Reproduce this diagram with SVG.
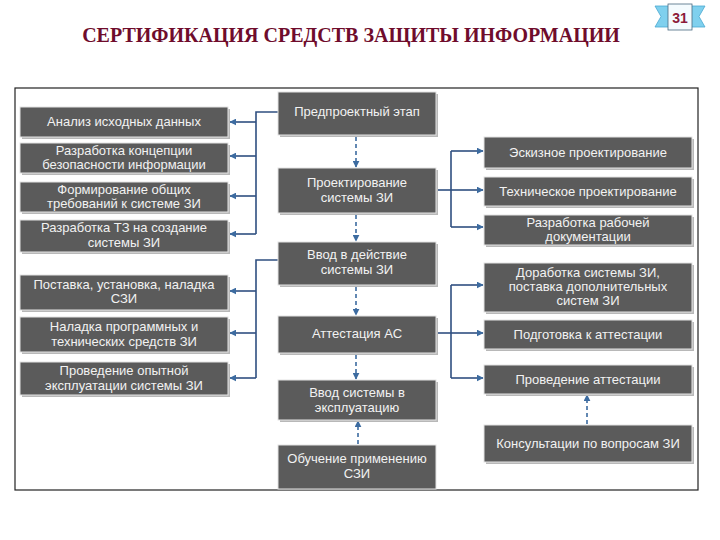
<svg xmlns="http://www.w3.org/2000/svg" width="720" height="540" viewBox="0 0 720 540">
<style>
.box{fill:#5b5b5b;stroke:#e4e4e4;stroke-width:1}
.sh{fill:#b8b8b8}
.t{font-family:"Liberation Sans",Arial,sans-serif;font-size:13px;fill:#f2f2f2;text-anchor:middle}
.ln{fill:none;stroke:#2f4f80;stroke-width:1.6}
.ds{fill:none;stroke:#3c6ba0;stroke-width:1.6;stroke-dasharray:4 3}
</style>
<defs>
<marker id="ah" viewBox="0 0 10 10" refX="9" refY="5" markerWidth="7" markerHeight="7" orient="auto" markerUnits="userSpaceOnUse">
<path d="M0,0 L10,5 L0,10 Z" fill="#3c6ba0"/>
</marker>
<marker id="ah2" viewBox="0 0 10 10" refX="9" refY="5" markerWidth="7" markerHeight="7" orient="auto" markerUnits="userSpaceOnUse">
<path d="M0,0 L10,5 L0,10 Z" fill="#3c6ba0"/>
</marker>
</defs>
<rect width="720" height="540" fill="#ffffff"/>
<text x="351" y="42" font-family="Liberation Serif,'Times New Roman',serif" font-size="20" font-weight="bold" fill="#6f0c2c" text-anchor="middle">СЕРТИФИКАЦИЯ СРЕДСТВ ЗАЩИТЫ ИНФОРМАЦИИ</text>
<g id="badge">
<polygon points="655,6 669,6 669,27 655,27 661,16.5" fill="#7fd0ee" stroke="#4aa8d0" stroke-width="0.8"/>
<polygon points="705,6 691,6 691,27 705,27 699,16.5" fill="#7fd0ee" stroke="#4aa8d0" stroke-width="0.8"/>
<rect x="668" y="4" width="24" height="26" fill="#f4fbfe" stroke="#4a6a80" stroke-width="0.8"/>
<text x="680" y="23" font-family="Liberation Sans,Arial,sans-serif" font-size="14" font-weight="bold" fill="#8b1a3a" text-anchor="middle">31</text>
</g>
<rect x="15" y="88" width="683" height="402" fill="none" stroke="#222222" stroke-width="1.2"/>
<g id="connectors">
<polyline class="ln" points="278,112 256,112 256,234"/>
<line class="ln" x1="256" y1="122" x2="230" y2="122" marker-end="url(#ah)"/>
<line class="ln" x1="256" y1="156" x2="230" y2="156" marker-end="url(#ah)"/>
<line class="ln" x1="256" y1="196" x2="230" y2="196" marker-end="url(#ah)"/>
<line class="ln" x1="256" y1="234" x2="230" y2="234" marker-end="url(#ah)"/>
<polyline class="ln" points="278,260 256,260 256,378"/>
<line class="ln" x1="256" y1="291" x2="230" y2="291" marker-end="url(#ah)"/>
<line class="ln" x1="256" y1="333" x2="230" y2="333" marker-end="url(#ah)"/>
<line class="ln" x1="256" y1="378" x2="230" y2="378" marker-end="url(#ah)"/>
<polyline class="ln" points="436,190 451,190"/>
<line class="ln" x1="451" y1="151" x2="451" y2="227"/>
<line class="ln" x1="451" y1="151" x2="483" y2="151" marker-end="url(#ah)"/>
<line class="ln" x1="451" y1="190" x2="483" y2="190" marker-end="url(#ah)"/>
<line class="ln" x1="451" y1="227" x2="483" y2="227" marker-end="url(#ah)"/>
<polyline class="ln" points="436,333 451,333"/>
<line class="ln" x1="451" y1="285" x2="451" y2="378"/>
<line class="ln" x1="451" y1="285" x2="483" y2="285" marker-end="url(#ah)"/>
<line class="ln" x1="451" y1="333" x2="483" y2="333" marker-end="url(#ah)"/>
<line class="ln" x1="451" y1="378" x2="483" y2="378" marker-end="url(#ah)"/>
<line class="ds" x1="356" y1="137" x2="356" y2="167" marker-end="url(#ah2)"/>
<line class="ds" x1="356" y1="215" x2="356" y2="241" marker-end="url(#ah2)"/>
<line class="ds" x1="356" y1="287" x2="356" y2="315" marker-end="url(#ah2)"/>
<line class="ds" x1="356" y1="355" x2="356" y2="379" marker-end="url(#ah2)"/>
<line class="ds" x1="358" y1="444" x2="358" y2="421" marker-end="url(#ah2)"/>
<line class="ds" x1="587" y1="424" x2="587" y2="395" marker-end="url(#ah2)"/>
</g>
<g id="l1"><rect class="sh" x="22" y="109" width="208" height="30"/><rect class="box" x="20" y="107" width="208" height="30"/><text class="t" x="124" y="126">Анализ исходных данных</text></g>
<g id="l2"><rect class="sh" x="22" y="145" width="208" height="30"/><rect class="box" x="20" y="143" width="208" height="30"/><text class="t" x="124" y="155">Разработка концепции</text><text class="t" x="124" y="169">безопасности информации</text></g>
<g id="l3"><rect class="sh" x="22" y="184" width="208" height="30"/><rect class="box" x="20" y="182" width="208" height="30"/><text class="t" x="124" y="194">Формирование общих</text><text class="t" x="124" y="208">требований к системе ЗИ</text></g>
<g id="l4"><rect class="sh" x="22" y="222" width="208" height="32"/><rect class="box" x="20" y="220" width="208" height="32"/><text class="t" x="124" y="232">Разработка ТЗ на создание</text><text class="t" x="124" y="247">системы ЗИ</text></g>
<g id="l5"><rect class="sh" x="22" y="277" width="208" height="35"/><rect class="box" x="20" y="275" width="208" height="35"/><text class="t" x="124" y="289">Поставка, установка, наладка</text><text class="t" x="124" y="303">СЗИ</text></g>
<g id="l6"><rect class="sh" x="22" y="319" width="208" height="35"/><rect class="box" x="20" y="317" width="208" height="35"/><text class="t" x="124" y="331">Наладка программных и</text><text class="t" x="124" y="346">технических средств ЗИ</text></g>
<g id="l7"><rect class="sh" x="22" y="364" width="208" height="33"/><rect class="box" x="20" y="362" width="208" height="33"/><text class="t" x="124" y="375">Проведение опытной</text><text class="t" x="124" y="390">эксплуатации системы ЗИ</text></g>
<g id="c1"><rect class="sh" x="280" y="94" width="158" height="43"/><rect class="box" x="278" y="92" width="158" height="43"/><text class="t" x="357" y="116">Предпроектный этап</text></g>
<g id="c2"><rect class="sh" x="280" y="170" width="158" height="45"/><rect class="box" x="278" y="168" width="158" height="45"/><text class="t" x="357" y="187">Проектирование</text><text class="t" x="357" y="202">системы ЗИ</text></g>
<g id="c3"><rect class="sh" x="280" y="244" width="158" height="43"/><rect class="box" x="278" y="242" width="158" height="43"/><text class="t" x="357" y="259">Ввод в действие</text><text class="t" x="357" y="274">системы ЗИ</text></g>
<g id="c4"><rect class="sh" x="280" y="318" width="158" height="37"/><rect class="box" x="278" y="316" width="158" height="37"/><text class="t" x="357" y="338">Аттестация АС</text></g>
<g id="c5"><rect class="sh" x="280" y="382" width="158" height="40"/><rect class="box" x="278" y="380" width="158" height="40"/><text class="t" x="357" y="397">Ввод системы в</text><text class="t" x="357" y="412">эксплуатацию</text></g>
<g id="c6"><rect class="box" x="278" y="445" width="158" height="44"/><text class="t" x="357" y="463">Обучение применению</text><text class="t" x="357" y="478">СЗИ</text></g>
<g id="r1"><rect class="sh" x="486" y="139" width="208" height="31"/><rect class="box" x="484" y="137" width="208" height="31"/><text class="t" x="588" y="157">Эскизное проектирование</text></g>
<g id="r2"><rect class="sh" x="486" y="179" width="208" height="29"/><rect class="box" x="484" y="177" width="208" height="29"/><text class="t" x="588" y="196">Техническое проектирование</text></g>
<g id="r3"><rect class="sh" x="486" y="217" width="208" height="30"/><rect class="box" x="484" y="215" width="208" height="30"/><text class="t" x="588" y="227">Разработка рабочей</text><text class="t" x="588" y="241">документации</text></g>
<g id="r4"><rect class="sh" x="486" y="265" width="208" height="49"/><rect class="box" x="484" y="263" width="208" height="49"/><text class="t" x="588" y="277">Доработка системы ЗИ,</text><text class="t" x="588" y="291">поставка дополнительных</text><text class="t" x="588" y="305">систем ЗИ</text></g>
<g id="r5"><rect class="sh" x="486" y="322" width="208" height="29"/><rect class="box" x="484" y="320" width="208" height="29"/><text class="t" x="588" y="339">Подготовка к аттестации</text></g>
<g id="r6"><rect class="sh" x="486" y="367" width="208" height="29"/><rect class="box" x="484" y="365" width="208" height="29"/><text class="t" x="588" y="384">Проведение аттестации</text></g>
<g id="r7"><rect class="sh" x="486" y="427" width="208" height="37"/><rect class="box" x="484" y="425" width="208" height="37"/><text class="t" x="588" y="448">Консультации по вопросам ЗИ</text></g>
</svg>
